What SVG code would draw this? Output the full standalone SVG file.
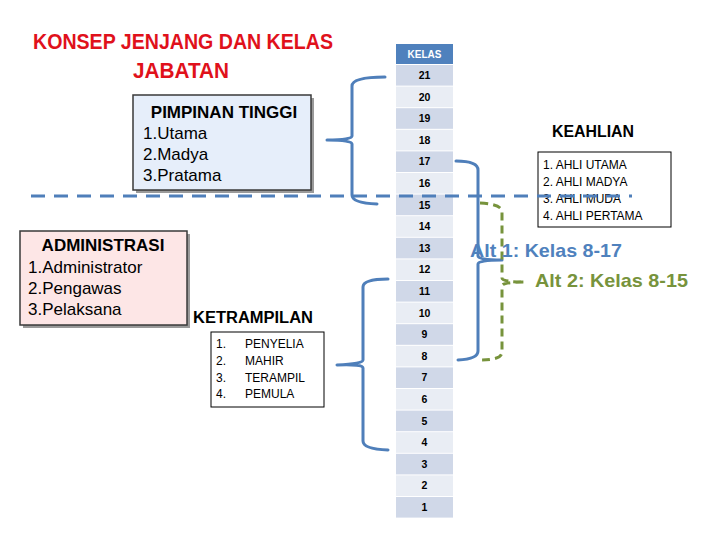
<svg xmlns="http://www.w3.org/2000/svg" width="720" height="540" viewBox="0 0 720 540">
<style>
.title{font-family:"Liberation Sans",Arial,sans-serif;font-weight:bold;font-size:22px;fill:#e0111b}
.bx{font-family:"Liberation Sans",Arial,sans-serif;font-size:17px;fill:#000}
.bxb{font-family:"Liberation Sans",Arial,sans-serif;font-size:17px;font-weight:bold;fill:#000}
.hd{font-family:"Liberation Sans",Arial,sans-serif;font-size:16px;font-weight:bold;fill:#000}
.sm{font-family:"Liberation Sans",Arial,sans-serif;font-size:12px;fill:#000}
.kn{font-family:"Liberation Sans",Arial,sans-serif;font-size:10.5px;font-weight:bold;fill:#000;text-anchor:middle}
.dk{fill:#d0d8e8}
.lt{fill:#e9edf4}
.br{fill:none;stroke:#4f7fba;stroke-width:3;stroke-linecap:round;stroke-linejoin:round}
.alt{font-family:"Liberation Sans",Arial,sans-serif;font-size:19px;font-weight:bold}
</style>
<rect width="720" height="540" fill="#fff"/>
<g id="title">
<text class="title" x="33" y="49" textLength="300" lengthAdjust="spacingAndGlyphs">KONSEP JENJANG DAN KELAS</text>
<text class="title" x="181" y="78" text-anchor="middle" textLength="96" lengthAdjust="spacingAndGlyphs">JABATAN</text>
</g>
<g id="pimpinan">
<rect x="136" y="98" width="178" height="95" fill="#9a9a9a"/>
<rect x="133" y="95" width="178" height="95" fill="#e6eefa" stroke="#3a3a3a" stroke-width="1.5"/>
<text class="bxb" x="224" y="118" text-anchor="middle">PIMPINAN TINGGI</text>
<text class="bx" x="143" y="139">1.Utama</text>
<text class="bx" x="143" y="160">2.Madya</text>
<text class="bx" x="143" y="181">3.Pratama</text>
</g>
<g id="administrasi">
<rect x="23" y="234" width="167" height="94" fill="#9a9a9a"/>
<rect x="20" y="231" width="167" height="94" fill="#fde6e6" stroke="#3a3a3a" stroke-width="1.5"/>
<text class="bxb" x="103" y="251" text-anchor="middle">ADMINISTRASI</text>
<text class="bx" x="28" y="273">1.Administrator</text>
<text class="bx" x="28" y="294">2.Pengawas</text>
<text class="bx" x="28" y="315">3.Pelaksana</text>
</g>
<g id="ketrampilan">
<text class="hd" x="193" y="323" textLength="120" lengthAdjust="spacingAndGlyphs">KETRAMPILAN</text>
<rect x="211" y="332" width="113" height="75" fill="#fff" stroke="#000" stroke-width="1"/>
<text class="sm" x="216" y="348">1.</text><text class="sm" x="245" y="348">PENYELIA</text>
<text class="sm" x="216" y="365">2.</text><text class="sm" x="245" y="365">MAHIR</text>
<text class="sm" x="216" y="382">3.</text><text class="sm" x="245" y="382">TERAMPIL</text>
<text class="sm" x="216" y="398">4.</text><text class="sm" x="245" y="398">PEMULA</text>
</g>
<g id="keahlian">
<text class="hd" x="552" y="137" textLength="82" lengthAdjust="spacingAndGlyphs">KEAHLIAN</text>
<rect x="538" y="152" width="133" height="75" fill="#fff" stroke="#000" stroke-width="1"/>
<text class="sm" x="543" y="169">1. AHLI UTAMA</text>
<text class="sm" x="543" y="186">2. AHLI MADYA</text>
<text class="sm" x="543" y="203">3. AHLI MUDA</text>
<text class="sm" x="543" y="220">4. AHLI PERTAMA</text>
</g>
<g id="kelas">
<rect x="396" y="44" width="57" height="20" fill="#4f81bd"/>
<text x="424.5" y="58" text-anchor="middle" font-family="Liberation Sans,Arial,sans-serif" font-size="10" font-weight="bold" fill="#fff">KELAS</text>
<rect class="dk" x="396" y="65" width="57" height="20.6"/><text class="kn" x="424.5" y="79">21</text>
<rect class="lt" x="396" y="86.6" width="57" height="20.6"/><text class="kn" x="424.5" y="100.6">20</text>
<rect class="dk" x="396" y="108.2" width="57" height="20.6"/><text class="kn" x="424.5" y="122.2">19</text>
<rect class="lt" x="396" y="129.8" width="57" height="20.6"/><text class="kn" x="424.5" y="143.8">18</text>
<rect class="dk" x="396" y="151.4" width="57" height="20.6"/><text class="kn" x="424.5" y="165.4">17</text>
<rect class="lt" x="396" y="173" width="57" height="20.6"/><text class="kn" x="424.5" y="187">16</text>
<rect class="dk" x="396" y="194.6" width="57" height="20.6"/><text class="kn" x="424.5" y="208.6">15</text>
<rect class="lt" x="396" y="216.2" width="57" height="20.6"/><text class="kn" x="424.5" y="230.2">14</text>
<rect class="dk" x="396" y="237.8" width="57" height="20.6"/><text class="kn" x="424.5" y="251.8">13</text>
<rect class="lt" x="396" y="259.4" width="57" height="20.6"/><text class="kn" x="424.5" y="273.4">12</text>
<rect class="dk" x="396" y="281" width="57" height="20.6"/><text class="kn" x="424.5" y="295">11</text>
<rect class="lt" x="396" y="302.6" width="57" height="20.6"/><text class="kn" x="424.5" y="316.6">10</text>
<rect class="dk" x="396" y="324.2" width="57" height="20.6"/><text class="kn" x="424.5" y="338.2">9</text>
<rect class="lt" x="396" y="345.8" width="57" height="20.6"/><text class="kn" x="424.5" y="359.8">8</text>
<rect class="dk" x="396" y="367.4" width="57" height="20.6"/><text class="kn" x="424.5" y="381.4">7</text>
<rect class="lt" x="396" y="389" width="57" height="20.6"/><text class="kn" x="424.5" y="403">6</text>
<rect class="dk" x="396" y="410.6" width="57" height="20.6"/><text class="kn" x="424.5" y="424.6">5</text>
<rect class="lt" x="396" y="432.2" width="57" height="20.6"/><text class="kn" x="424.5" y="446.2">4</text>
<rect class="dk" x="396" y="453.8" width="57" height="20.6"/><text class="kn" x="424.5" y="467.8">3</text>
<rect class="lt" x="396" y="475.4" width="57" height="20.6"/><text class="kn" x="424.5" y="489.4">2</text>
<rect class="dk" x="396" y="497" width="57" height="20.6"/><text class="kn" x="424.5" y="511">1</text>
</g>
<g id="connectors">
<line x1="31" y1="196" x2="632" y2="196" stroke="#4f7fba" stroke-width="3" stroke-dasharray="14 9"/>
<path class="br" d="M385,77 Q352,77 352,86 L352,136 Q352,140 327,140 Q352,140 352,144 L352,195 Q352,203 377,204"/>
<path class="br" d="M388,279 Q363,279 363,287 L363,360 Q363,364 337,365 Q363,364 363,368 L363,441 Q363,449 388,450"/>
<path class="br" d="M456,161 Q478,161 478,170 L478,256 Q478,260 502,260 Q478,260 478,264 L478,351 Q478,359 458,360"/>
<path d="M480,203 Q502,204 502,212 L502,278 Q502,282 525,282 Q502,282 502,286 L502,352 Q502,360 480,360" fill="none" stroke="#77933c" stroke-width="3" stroke-dasharray="8 5" stroke-linejoin="round"/>
</g>
<g id="alt1"><text class="alt" x="470" y="257" fill="#4f81bd" textLength="152" lengthAdjust="spacingAndGlyphs">Alt 1: Kelas 8-17</text></g>
<g id="alt2"><text class="alt" x="535" y="287" fill="#77933c" textLength="153" lengthAdjust="spacingAndGlyphs">Alt 2: Kelas 8-15</text></g>
</svg>
